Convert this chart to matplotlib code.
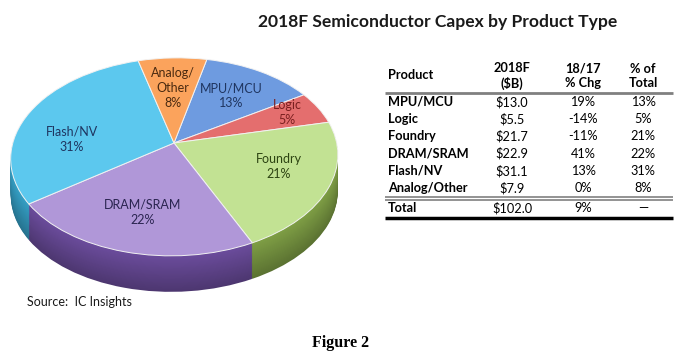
import matplotlib
matplotlib.use('Agg')
import matplotlib.pyplot as plt
import numpy as np
from matplotlib.colors import to_rgb
from matplotlib.transforms import Transform

# data
products = ['MPU/MCU', 'Logic', 'Foundry', 'DRAM/SRAM', 'Flash/NV', 'Analog/Other']
capex_2018 = [13.0, 5.5, 21.7, 22.9, 31.1, 7.9]
chg_18_17 = ['19%', '-14%', '-11%', '41%', '13%', '0%']
pct_total = [13, 5, 21, 22, 31, 8]
pie_labels = ['MPU/MCU', 'Logic', 'Foundry', 'DRAM/SRAM', 'Flash/NV', 'Analog/\nOther']
total_capex = 102.0
total_chg = '9%'

top_colors = ['#6e9be0', '#e46e6e', '#c2e293', '#b097d8', '#5cc8ee', '#fba35c']
side_colors = ['#4a72b8', '#b04444', '#7f9f45', '#6b4c9c', '#35a0c6', '#c87428']
label_colors = ['#1f3560', '#7a1f1f', '#2d4412', '#2a2450', '#1f3560', '#4a2a10']
# label placement: radius and angle nudge (degrees) from the slice middle
label_r = [0.64, 0.79, 0.67, 0.67, 0.64, 0.62]
label_dth = [0, 2, 5, 0, 16, 0]

W, H = 680, 359
# pie geometry in pixels (centre, half axes, perspective, tilt, depth)
CX, CY, A, B, P, ROT, DEPTH = 174, 143, 162, 97, 0.14, -0.02, 36


class TiltView(Transform):
    # unit circle -> tilted pie in pixel coords (y pointing down)
    input_dims = output_dims = 2

    def __init__(self, drop=0.0):
        super().__init__()
        self.drop = drop

    def transform_non_affine(self, values):
        v = np.asarray(values, dtype=float).reshape(-1, 2)
        x, y = v[:, 0], v[:, 1]
        s = 1 + P * y
        X = A * x / s
        Y = -B * y / s
        c, sn = np.cos(ROT), np.sin(ROT)
        return np.column_stack([CX + X * c - Y * sn, CY + X * sn + Y * c + self.drop])


plt.rcParams['font.family'] = ['Lato', 'DejaVu Sans']
fig = plt.figure(figsize=(W / 100, H / 100), dpi=100)
fig.patch.set_facecolor('white')

ax = fig.add_axes([0, 0, 1, 1])

# side of the pie: stacked layers, darker towards the bottom
n_layers = 40
for k, drop in enumerate(np.linspace(DEPTH, 0.5, n_layers)):
    f = 0.72 + 0.28 * k / (n_layers - 1)
    cols = [tuple(min(1, c * f) for c in to_rgb(s)) for s in side_colors]
    ws, _ = ax.pie(capex_2018, startangle=76, counterclock=False, colors=cols,
                   wedgeprops=dict(linewidth=0))
    tr = TiltView(drop) + ax.transData
    for w in ws:
        w.set_transform(tr)
        w.set_clip_on(False)

# top face
wedges, _ = ax.pie(capex_2018, startangle=76, counterclock=False, colors=top_colors,
                   wedgeprops=dict(linewidth=0.7, edgecolor='#f2f2f2'))
top_tr = TiltView(0)
for w in wedges:
    w.set_transform(top_tr + ax.transData)
    w.set_clip_on(False)

for w, lab, p, c, r, dth in zip(wedges, pie_labels, pct_total, label_colors, label_r, label_dth):
    th = np.deg2rad((w.theta1 + w.theta2) / 2 + dth)
    px, py = top_tr.transform([[r * np.cos(th), r * np.sin(th)]])[0]
    ax.text(px, py, f'{lab}\n{p}%', ha='center', va='center', fontsize=9,
            color=c, linespacing=1.3)

ax.set_aspect('auto')
ax.set_xlim(0, W)
ax.set_ylim(H, 0)
ax.axis('off')

# title
ax.text(438, 22, '2018F Semiconductor Capex by Product Type', ha='center', va='center',
        fontsize=12.6, fontweight='bold', color='#1a1a1a')

# table
fs = 9.2
x_prod, x_val, x_chg, x_pct = 388, 512, 583, 643
ax.text(x_prod, 75, 'Product', ha='left', va='center', fontsize=fs, fontweight='bold')
for x, t in [(x_val, '2018F\n($B)'), (x_chg, '18/17\n% Chg'), (x_pct, '% of\nTotal')]:
    ax.text(x, 76, t, ha='center', va='center', fontsize=fs, fontweight='bold', linespacing=1.25)
ax.hlines(93, 385, 673, color='#808080', lw=2)
row_y = np.linspace(102, 188, len(products))
for y, prod, v, ch, p in zip(row_y, products, capex_2018, chg_18_17, pct_total):
    ax.text(x_prod, y, prod, ha='left', va='center', fontsize=fs, fontweight='bold')
    ax.text(x_val, y, f'${v:.1f}', ha='center', va='center', fontsize=fs)
    ax.text(x_chg, y, ch, ha='center', va='center', fontsize=fs)
    ax.text(x_pct, y, f'{p}%', ha='center', va='center', fontsize=fs)
ax.hlines([197, 200], 385, 673, color='#808080', lw=1.2)
ax.text(x_prod, 208, 'Total', ha='left', va='center', fontsize=fs, fontweight='bold')
ax.text(x_val, 208, f'${total_capex:.1f}', ha='center', va='center', fontsize=fs)
ax.text(x_chg, 208, total_chg, ha='center', va='center', fontsize=fs)
ax.text(x_pct, 208, '\u2014', ha='center', va='center', fontsize=fs)
ax.hlines(218, 385, 673, color='black', lw=2.5)

# footer
ax.text(27, 302, 'Source:  IC Insights', ha='left', va='center', fontsize=9, color='#1a1a1a')
ax.text(341, 343, 'Figure 2', ha='center', va='center', fontsize=11.5, fontweight='bold',
        family=['Liberation Serif', 'DejaVu Serif'])

fig.savefig('out.png', dpi=100, facecolor='white')
